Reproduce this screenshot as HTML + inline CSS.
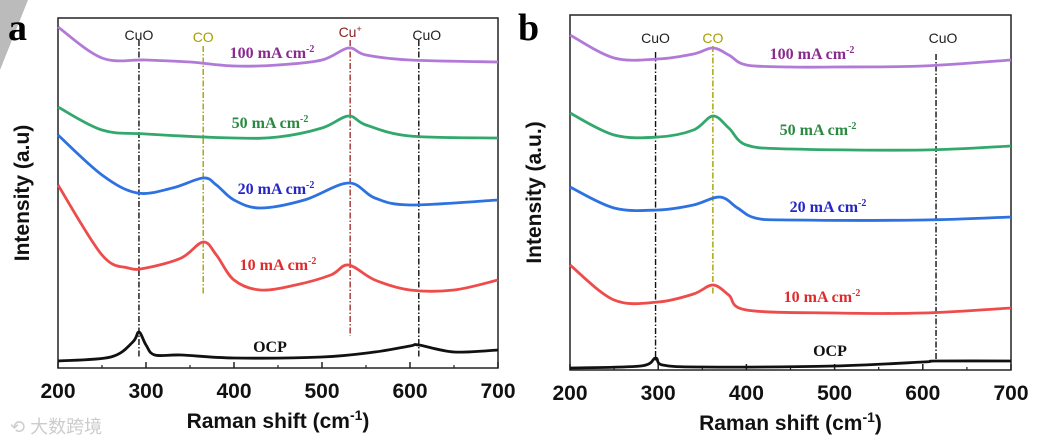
<!DOCTYPE html>
<html><head><meta charset="utf-8"><style>
body{margin:0;background:#fff;width:1042px;height:443px;overflow:hidden}
svg{display:block}
.tk{font:bold 21px "Liberation Sans",sans-serif;fill:#111}
.tt{font:bold 21px "Liberation Sans",sans-serif;fill:#111}
.lab{font:bold 16px "Liberation Serif",serif}
.pk{font:14px "Liberation Sans",sans-serif;fill:#222}
</style></head><body>
<svg id="c" width="1042" height="443" xmlns="http://www.w3.org/2000/svg">
<polygon points="0,0 28,0 0,70" fill="#bbb"/>
<text x="8" y="40" font-family="Liberation Serif,serif" font-weight="bold" font-size="38">a</text>
<text x="518" y="40" font-family="Liberation Serif,serif" font-weight="bold" font-size="38">b</text>
<text x="10" y="433" font-family="Liberation Sans,Noto Sans CJK SC,sans-serif" font-size="18" fill="#ccc">⟲ 大数跨境</text>
</svg>
<script>
const xTicks=[200,300,400,500,600,700];
const xMinor=[250,350,450,550,650];
// panel a series (intensity, arbitrary offsets)
const aPurpleX=[200,250,300,350,400,450,500,530,550,600,700];
const aPurpleY=[341,310,308,306,302,303,308,320,313,308,306];
const aGreenX=[200,250,300,400,450,500,530,550,600,700];
const aGreenY=[261,238,234,230,231,240,252,243,232,230];
const aBlueX=[200,250,290,330,365,380,400,430,480,530,560,600,700];
const aBlueY=[233,193,175,180,190,183,168,160,168,185,170,163,168];
const aRedX=[200,250,280,300,340,365,380,400,430,470,510,530,560,600,650,700];
const aRedY=[183,113,100,100,110,126,113,88,78,83,93,103,88,78,78,88];
const aBlackX=[200,260,285,292,300,310,340,400,500,560,600,610,650,700];
const aBlackY=[7,11,26,36,23,13,13,10,11,16,22,23,16,18];
// panel b series
const bPurpleX=[200,250,300,340,362,380,400,450,500,600,700];
const bPurpleY=[335,312,311,316,322,315,305,303,303,304,310];
const bGreenX=[200,250,300,340,362,380,400,450,600,700];
const bGreenY=[257,235,233,240,254,242,225,221,220,224];
const bBlueX=[200,250,300,340,370,390,410,450,600,700];
const bBlueY=[183,162,160,165,173,162,152,150,150,153];
const bRedX=[200,250,300,340,362,380,400,500,600,700];
const bRedY=[105,70,68,76,85,75,60,57,57,62];
const bBlackX=[200,280,297,305,350,500,600,615,700];
const bBlackY=[2,4,12,5,3,4,8,9,9];

const NS="http://www.w3.org/2000/svg",svg=document.getElementById('c');
function el(t,a,txt){const e=document.createElementNS(NS,t);for(const k in a)e.setAttribute(k,a[k]);if(txt!=null)e.textContent=txt;svg.appendChild(e);return e;}
function panel(p){
 const X=v=>p.l+(v-200)*(p.r-p.l)/500, Y=v=>p.b-v;
 let r=el('rect',{x:p.l,y:p.t,width:p.r-p.l,height:p.b-p.t,fill:'none',stroke:'#222','stroke-width':1.5});
 
 
 xTicks.forEach(v=>{let t=el('line',{x1:X(v),x2:X(v),y1:p.b,y2:p.b-6,stroke:'#222','stroke-width':1.5});
  
  
  let s=el('text',{x:X(v),y:p.b+30,'text-anchor':'middle',class:'tk'},v);
  
  });
 xMinor.forEach(v=>{let t=el('line',{x1:X(v),x2:X(v),y1:p.b,y2:p.b-3,stroke:'#222','stroke-width':1.2});
  
  });
 let xt=el('text',{x:(p.l+p.r)/2,y:p.b+60,'text-anchor':'middle',class:'tt'});
 xt.innerHTML='Raman shift (cm<tspan dy="-8" font-size="14">-1</tspan><tspan dy="8">)</tspan>';
 
 
 let yt=el('text',{x:0,y:0,'text-anchor':'middle',class:'tt',transform:`translate(${p.l-29},${(p.t+p.b)/2}) rotate(-90)`},p.yl);
 
 
 p.vl.forEach(v=>{let l=el('line',{x1:X(v[0]),x2:X(v[0]),y1:v[1],y2:v[2],stroke:v[3],'stroke-width':1.4,'stroke-dasharray':'6,2,1.5,2'});
  
  
  let t=el('text',{x:X(v[0])+(v[6]||0),y:v[5],'text-anchor':'middle',class:'pk',fill:v[3]},v[4]);
  if(v[4]==='CO'){t.setAttribute('font-weight','bold');t.setAttribute('font-size','16');t.style.fill='#a8a000';}
  if(v[4]==='Cu+'){t.textContent='Cu';let s=document.createElementNS(NS,'tspan');s.setAttribute('dy','-5');s.setAttribute('font-size','9');s.textContent='+';t.appendChild(s);t.style.fill='#8a2020';}
  
  });
 p.s.forEach(s=>{
  const pts=s.x.map((v,i)=>[X(v),Y(s.y[i])]);
  let d='M'+pts[0][0]+','+pts[0][1];
  for(let i=0;i<pts.length-1;i++){const p0=pts[Math.max(0,i-1)],p1=pts[i],p2=pts[i+1],p3=pts[Math.min(pts.length-1,i+2)];
   d+=` C${p1[0]+(p2[0]-p0[0])/6},${p1[1]+(p2[1]-p0[1])/6} ${p2[0]-(p3[0]-p1[0])/6},${p2[1]-(p3[1]-p1[1])/6} ${p2[0]},${p2[1]}`;}
  let pa=el('path',{d:d,fill:'none',stroke:s.c,'stroke-width':2.8,'stroke-linejoin':'round'});
  
  
  let t=el('text',{x:s.lx,y:s.ly,'text-anchor':'middle',class:'lab',fill:s.lc});
  if(s.name==='ocp')t.textContent='OCP';else t.innerHTML=s.lt+' mA cm<tspan dy="-6" font-size="10">-2</tspan>';
  
  });
}
panel({n:'a',l:58,r:498,t:18,b:368,yl:'Intensity (a.u)',
 vl:[[292,40,357,'#111','CuO',40],[365,46,295,'#a8a000','CO',42],[532,40,336,'#a03030','Cu+',37],[610,40,357,'#111','CuO',40,8]],
 s:[{name:'100',x:aPurpleX,y:aPurpleY,c:'#b27ad8',lc:'#8a2a90',lt:'100',lx:272,ly:58},
    {name:'50',x:aGreenX,y:aGreenY,c:'#32a86c',lc:'#2a8a40',lt:'50',lx:270,ly:128},
    {name:'20',x:aBlueX,y:aBlueY,c:'#2d72e0',lc:'#2626c8',lt:'20',lx:276,ly:194},
    {name:'10',x:aRedX,y:aRedY,c:'#ee4b4b',lc:'#e02a2a',lt:'10',lx:278,ly:270},
    {name:'ocp',x:aBlackX,y:aBlackY,c:'#111',lc:'#111',lx:270,ly:352}]});
panel({n:'b',l:570,r:1011,t:15,b:370,yl:'Intensity (a.u.)',
 vl:[[297,52,362,'#111','CuO',43],[362,46,295,'#a8a000','CO',43],[615,54,362,'#111','CuO',43,7]],
 s:[{name:'100',x:bPurpleX,y:bPurpleY,c:'#b27ad8',lc:'#8a2a90',lt:'100',lx:812,ly:59},
    {name:'50',x:bGreenX,y:bGreenY,c:'#32a86c',lc:'#2a8a40',lt:'50',lx:818,ly:135},
    {name:'20',x:bBlueX,y:bBlueY,c:'#2d72e0',lc:'#2626c8',lt:'20',lx:828,ly:212},
    {name:'10',x:bRedX,y:bRedY,c:'#ee4b4b',lc:'#e02a2a',lt:'10',lx:822,ly:302},
    {name:'ocp',x:bBlackX,y:bBlackY,c:'#111',lc:'#111',lx:830,ly:356}]});
</script>
</body></html>
